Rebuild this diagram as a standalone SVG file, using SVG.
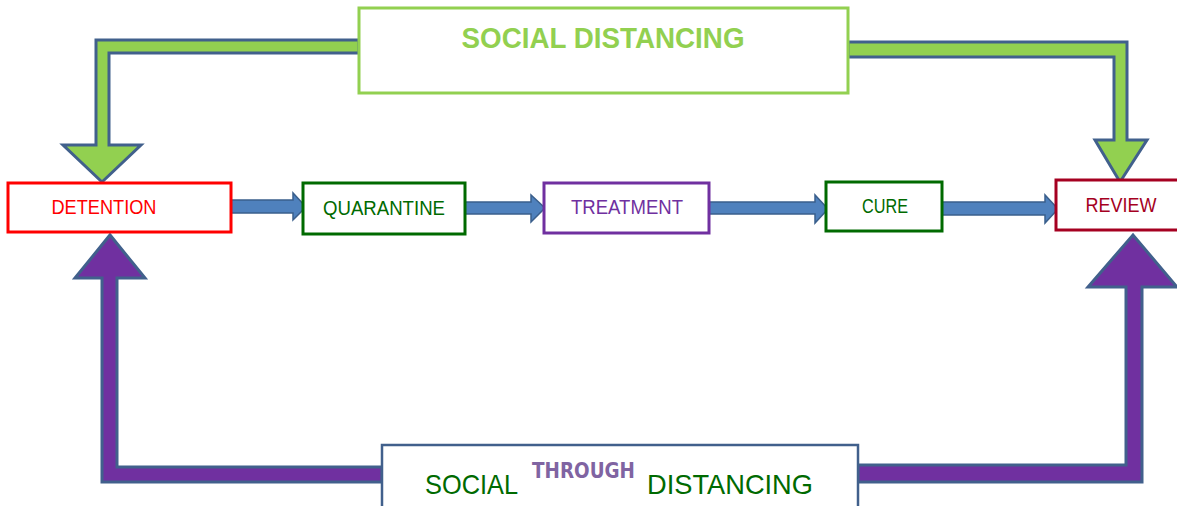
<svg xmlns="http://www.w3.org/2000/svg" width="1177" height="506" viewBox="0 0 1177 506">
<style>
.box{fill:#fff;stroke-width:3}
.lbl{font-family:"Liberation Sans",Arial,sans-serif;font-size:19.5px;text-anchor:middle}
.green-arr{fill:#92d050;stroke:#41608c;stroke-width:3;stroke-linejoin:miter}
.purple-arr{fill:#7030a0;stroke:#41608c;stroke-width:3;stroke-linejoin:miter}
.blue-arr{fill:#4f81bd;stroke:#3a5f8c;stroke-width:1.5}
</style>
<rect width="1177" height="506" fill="#fff"/>
<g id="connectors">
<polygon class="green-arr" points="359,40 96,40 96,145 63,145 102,182 141,145 109,145 109,53 359,53"/>
<polygon class="green-arr" points="848,42 1127,42 1127,140 1147,140 1120,182 1095,140 1114,140 1114,57 848,57"/>
<polygon class="purple-arr" points="382,467 117,467 117,278 145,278 110,235 75,278 102,278 102,482 382,482"/>
<polygon class="purple-arr" points="858,465 1126,465 1126,287 1088,287 1133,235 1177,287 1142,287 1142,482 858,482"/>
<polygon class="blue-arr" points="231,200 293,200 293,193 306,207 293,220 293,213 231,213"/>
<polygon class="blue-arr" points="465,202 531,202 531,195 545,208 531,222 531,214 465,214"/>
<polygon class="blue-arr" points="709,202 815,202 815,195 828,209 815,223 815,214 709,214"/>
<polygon class="blue-arr" points="942,202 1045,202 1045,195 1058,209 1045,223 1045,215 942,215"/>
</g>
<g id="social-distancing">
<rect class="box" x="359" y="8" width="489" height="85" stroke="#92d050"/>
<text x="603" y="48" font-family="Liberation Sans,Arial,sans-serif" font-size="29" font-weight="bold" fill="#92d050" text-anchor="middle" textLength="283" lengthAdjust="spacingAndGlyphs">SOCIAL DISTANCING</text>
</g>
<g id="detention">
<rect class="box" x="8" y="183" width="223" height="49" stroke="#ff0000"/>
<text class="lbl" x="104" y="214" fill="#ff0000" textLength="105" lengthAdjust="spacingAndGlyphs">DETENTION</text>
</g>
<g id="quarantine">
<rect class="box" x="303" y="183" width="162" height="51" stroke="#006a00"/>
<text class="lbl" x="384" y="215" fill="#006a00" textLength="122" lengthAdjust="spacingAndGlyphs">QUARANTINE</text>
</g>
<g id="treatment">
<rect class="box" x="544" y="183" width="165" height="50" stroke="#7030a0"/>
<text class="lbl" x="627" y="214" fill="#7030a0" textLength="112" lengthAdjust="spacingAndGlyphs">TREATMENT</text>
</g>
<g id="cure">
<rect class="box" x="826" y="182" width="116" height="49" stroke="#006a00"/>
<text class="lbl" x="885" y="213" fill="#006a00" textLength="46" lengthAdjust="spacingAndGlyphs">CURE</text>
</g>
<g id="review">
<rect class="box" x="1056" y="180" width="130" height="50" stroke="#a50021"/>
<text class="lbl" x="1121" y="212" fill="#a50021" textLength="71" lengthAdjust="spacingAndGlyphs">REVIEW</text>
</g>
<g id="social-through-distancing">
<rect x="382" y="445" width="476" height="70" fill="#fff" stroke="#41608c" stroke-width="2.5"/>
<text x="425" y="494" font-family="Liberation Sans,Arial,sans-serif" font-size="28" fill="#006a00" textLength="93" lengthAdjust="spacingAndGlyphs">SOCIAL</text>
<text x="532" y="478" font-family="DejaVu Sans,sans-serif" font-size="21" font-weight="bold" fill="#8064a2" textLength="103" lengthAdjust="spacingAndGlyphs">THROUGH</text>
<text x="647" y="494" font-family="Liberation Sans,Arial,sans-serif" font-size="28" fill="#006a00" textLength="166" lengthAdjust="spacingAndGlyphs">DISTANCING</text>
</g>
</svg>
